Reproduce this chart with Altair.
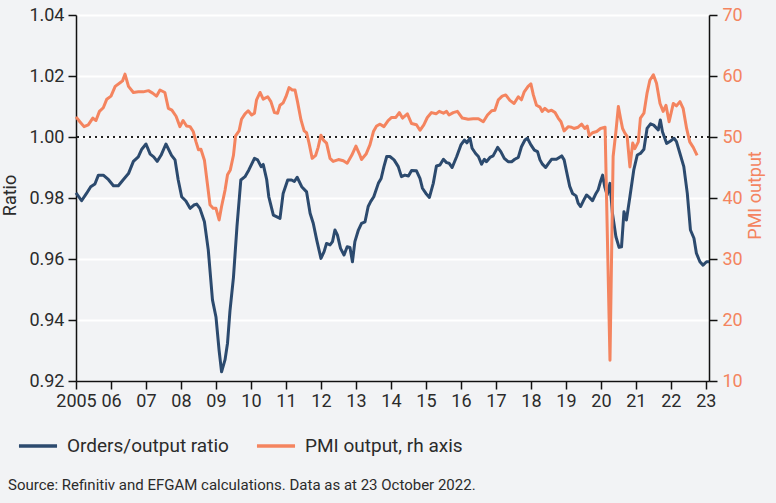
import altair as alt
import pandas as pd

# ---------------- data ----------------
ratio_year = [
    2005.0, 2005.16, 2005.3, 2005.42, 2005.54, 2005.64, 2005.78, 2005.93,
    2006.07, 2006.21, 2006.35, 2006.5, 2006.64, 2006.78, 2006.88,
    2007.0, 2007.12, 2007.22, 2007.32, 2007.43, 2007.57, 2007.73, 2007.83, 2007.92,
    2008.02, 2008.14, 2008.26, 2008.37, 2008.45, 2008.54, 2008.67, 2008.78, 2008.9,
    2009.0, 2009.09, 2009.16, 2009.26, 2009.33, 2009.4, 2009.5, 2009.6, 2009.71, 2009.83, 2009.94,
    2010.1, 2010.19, 2010.29, 2010.35, 2010.45, 2010.51, 2010.64, 2010.83, 2010.92,
    2011.05, 2011.16, 2011.24, 2011.32, 2011.45, 2011.59, 2011.69, 2011.78, 2011.88,
    2012.0, 2012.09, 2012.16, 2012.26, 2012.33, 2012.4, 2012.47, 2012.56, 2012.66, 2012.75, 2012.83, 2012.9, 2012.97,
    2013.07, 2013.16, 2013.26, 2013.35, 2013.42, 2013.51, 2013.64, 2013.72, 2013.8, 2013.88, 2013.97,
    2014.09, 2014.21, 2014.3, 2014.4, 2014.5, 2014.59, 2014.73, 2014.83, 2014.9,
    2015.0, 2015.1, 2015.21, 2015.3, 2015.4, 2015.5, 2015.59, 2015.66, 2015.75, 2015.88,
    2016.0, 2016.1, 2016.17, 2016.26, 2016.32, 2016.42, 2016.5, 2016.59, 2016.67, 2016.73, 2016.83, 2016.92,
    2017.05, 2017.14, 2017.24, 2017.35, 2017.45, 2017.54, 2017.64, 2017.73, 2017.83, 2017.9,
    2018.0, 2018.1, 2018.19, 2018.26, 2018.33, 2018.42, 2018.51, 2018.59, 2018.73, 2018.88, 2018.95,
    2019.05, 2019.11, 2019.19, 2019.29, 2019.35, 2019.42, 2019.51, 2019.59, 2019.67, 2019.76, 2019.86, 2019.92, 2019.99,
    2020.05, 2020.11, 2020.18, 2020.26, 2020.33, 2020.43, 2020.52, 2020.59, 2020.66, 2020.73, 2020.83, 2020.94,
    2021.04, 2021.13, 2021.23, 2021.32, 2021.42, 2021.51, 2021.64, 2021.7, 2021.76, 2021.88, 2021.97,
    2022.09, 2022.16, 2022.26, 2022.37, 2022.47, 2022.56, 2022.66, 2022.73, 2022.83, 2022.92,
    2023.02, 2023.09,
]
ratio_value = [
    0.9817, 0.9791, 0.9815, 0.9837, 0.9846, 0.9875, 0.9875, 0.9860,
    0.9840, 0.9840, 0.9860, 0.9880, 0.9920, 0.9935, 0.9960,
    0.9977, 0.9944, 0.9935, 0.9920, 0.9940, 0.9977, 0.9940, 0.9925, 0.9860,
    0.9804, 0.9790, 0.9766, 0.9777, 0.9780, 0.9766, 0.9722, 0.9630, 0.9466,
    0.9410, 0.9300, 0.9230, 0.9270, 0.9324, 0.9430, 0.9540, 0.9706, 0.9859, 0.9870, 0.9892,
    0.9930, 0.9925, 0.9903, 0.9910, 0.9860, 0.9804, 0.9744, 0.9733, 0.9815,
    0.9859, 0.9859, 0.9854, 0.9868, 0.9837, 0.9820, 0.9750, 0.9717, 0.9662,
    0.9602, 0.9624, 0.9651, 0.9646, 0.9657, 0.9695, 0.9679, 0.9635, 0.9613, 0.9640, 0.9638, 0.9591, 0.9657,
    0.9695, 0.9717, 0.9722, 0.9772, 0.9788, 0.9804, 0.9848, 0.9864, 0.9903, 0.9936, 0.9936,
    0.9925, 0.9903, 0.9870, 0.9875, 0.9872, 0.9890, 0.9889, 0.9864, 0.9832,
    0.9815, 0.9802, 0.9848, 0.9905, 0.9908, 0.9927, 0.9916, 0.9914, 0.9900, 0.9936,
    0.9974, 0.9990, 0.9981, 0.9996, 0.9963, 0.9946, 0.9936, 0.9911, 0.9927, 0.9919, 0.9933, 0.9938,
    0.9966, 0.9952, 0.9930, 0.9919, 0.9919, 0.9927, 0.9933, 0.9968, 0.9990, 0.9996,
    0.9974, 0.9957, 0.9952, 0.9925, 0.9911, 0.9900, 0.9914, 0.9927, 0.9927, 0.9938, 0.9925,
    0.9870, 0.9838, 0.9815, 0.9807, 0.9783, 0.9772, 0.9793, 0.9810, 0.9802, 0.9791, 0.9815, 0.9826, 0.9854,
    0.9875, 0.9837, 0.9810, 0.9848, 0.9750, 0.9673, 0.9638, 0.9640, 0.9755, 0.9728, 0.9804, 0.9892,
    0.9941, 0.9946, 0.9960, 1.0028, 1.0043, 1.0039, 1.0023, 1.0056, 1.0017, 0.9979, 0.9985,
    0.9996, 0.9985, 0.9946, 0.9903, 0.9815, 0.9695, 0.9668, 0.9619, 0.9591, 0.9580,
    0.9591, 0.9591,
]

pmi_year = [
    2005.0, 2005.11, 2005.23, 2005.35, 2005.48, 2005.57, 2005.67, 2005.78, 2005.88,
    2006.0, 2006.12, 2006.26, 2006.33, 2006.4, 2006.5, 2006.64, 2006.78, 2006.92,
    2007.07, 2007.19, 2007.3, 2007.4, 2007.54, 2007.64, 2007.74, 2007.86, 2007.97,
    2008.06, 2008.16, 2008.26, 2008.35, 2008.43, 2008.5, 2008.57, 2008.67, 2008.76, 2008.83, 2008.92,
    2009.0, 2009.09, 2009.16, 2009.26, 2009.33, 2009.41, 2009.5, 2009.56, 2009.66, 2009.73, 2009.83, 2009.92,
    2010.02, 2010.1, 2010.16, 2010.26, 2010.35, 2010.48, 2010.57, 2010.67, 2010.76, 2010.83, 2010.92,
    2011.0, 2011.09, 2011.18, 2011.26, 2011.33, 2011.43, 2011.52, 2011.59, 2011.66, 2011.75, 2011.85, 2011.92,
    2012.0, 2012.07, 2012.16, 2012.26, 2012.35, 2012.5, 2012.64, 2012.75, 2012.88,
    2013.0, 2013.1, 2013.16, 2013.29, 2013.4, 2013.5, 2013.59, 2013.69, 2013.8, 2013.92,
    2014.02, 2014.14, 2014.24, 2014.33, 2014.47, 2014.59, 2014.73, 2014.83, 2014.94,
    2015.04, 2015.16, 2015.29, 2015.38, 2015.5, 2015.59, 2015.66, 2015.78, 2015.9,
    2016.04, 2016.21, 2016.35, 2016.5, 2016.64, 2016.76, 2016.88, 2016.97,
    2017.07, 2017.18, 2017.28, 2017.4, 2017.52, 2017.64, 2017.73, 2017.81, 2017.92,
    2018.0, 2018.07, 2018.16, 2018.26, 2018.32, 2018.4, 2018.5, 2018.59, 2018.69, 2018.78, 2018.86, 2018.95,
    2019.07, 2019.16, 2019.23, 2019.35, 2019.45, 2019.54, 2019.61, 2019.67, 2019.76, 2019.88, 2019.99,
    2020.12, 2020.26, 2020.35, 2020.43, 2020.5, 2020.56, 2020.62, 2020.69, 2020.75, 2020.83, 2020.91, 2020.97,
    2021.07, 2021.13, 2021.23, 2021.32, 2021.4, 2021.5, 2021.59, 2021.69, 2021.78, 2021.86, 2021.95,
    2022.07, 2022.16, 2022.26, 2022.35, 2022.45, 2022.54, 2022.64, 2022.75,
]
pmi_value = [
    53.3, 52.5, 51.7, 52.0, 53.1, 52.7, 54.2, 54.8, 56.2,
    56.7, 58.3, 58.9, 59.2, 60.3, 58.3, 57.3, 57.4, 57.4,
    57.6, 57.2, 56.7, 57.7, 57.3, 54.7, 54.4, 53.4, 51.7,
    52.7, 51.8, 51.7, 50.9, 49.2, 47.9, 48.0, 46.2, 42.1, 38.9, 38.3,
    38.3, 36.4, 38.6, 41.3, 43.8, 44.6, 47.0, 50.2, 51.0, 52.9, 53.8, 54.3,
    53.6, 53.9, 56.1, 57.3, 56.2, 56.6, 55.8, 54.0, 53.9, 55.2, 55.6,
    56.6, 58.1, 57.7, 57.7, 55.8, 52.8, 51.0, 50.7, 49.0, 46.5, 47.0, 48.3,
    50.3, 49.5, 49.0, 46.5, 46.0, 46.3, 46.1, 45.7, 47.0,
    48.5, 47.2, 46.3, 47.2, 48.7, 50.9, 51.8, 52.1, 51.7, 52.7,
    53.2, 53.2, 54.0, 53.1, 53.8, 52.2, 52.0, 51.1, 52.0,
    53.2, 54.0, 53.8, 54.2, 53.9, 54.2, 53.6, 54.0, 54.2,
    53.1, 52.9, 53.0, 53.0, 52.5, 53.6, 54.3, 54.4,
    56.1, 56.7, 56.9, 56.0, 55.5, 56.6, 56.1, 57.4, 58.3,
    58.7, 56.9, 55.2, 54.9, 54.2, 54.7, 54.2, 54.4, 54.0, 53.1, 52.5, 51.0,
    51.7, 51.6, 51.4, 51.6, 52.1, 51.4, 51.8, 50.2, 50.7, 50.9, 51.4,
    51.6, 13.4, 46.8, 50.9, 55.0, 53.1, 51.4, 50.6, 50.1, 45.1, 49.0, 48.1,
    49.2, 53.1, 53.9, 57.2, 59.3, 60.2, 58.8, 55.5, 54.2, 55.2, 52.5,
    55.5, 55.1, 55.8, 54.7, 51.4, 49.2, 48.3, 47.0,
]

year_ticks = list(range(2005, 2024))
ratio_ticks = [0.92, 0.94, 0.96, 0.98, 1.00, 1.02, 1.04]
pmi_ticks = [10, 20, 30, 40, 50, 60, 70]
series_names = ["Orders/output ratio", "PMI output, rh axis"]
reference_line = [1.0]
source_text = ["Source: Refinitiv and EFGAM calculations. Data as at 23 October 2022."]

# ---------------- style ----------------
NAVY = "#2c4a6e"
ORANGE = "#f4845f"
BG = "#f2f3f5"
FONT = "Roboto"
TXT = "#2b2b2b"
TICK_FS = 18

ratio_df = pd.DataFrame({"year": ratio_year, "value": ratio_value, "series": series_names[0]})
pmi_df = pd.DataFrame({"year": pmi_year, "value": pmi_value, "series": series_names[1]})
rule_df = pd.DataFrame({"value": reference_line})
src_df = pd.DataFrame({"t": source_text})

color_scale = alt.Scale(domain=series_names, range=[NAVY, ORANGE])

x_enc = alt.X(
    "year:Q",
    scale=alt.Scale(domain=[2005, 2023.09], nice=False, zero=False),
    axis=alt.Axis(
        values=year_ticks,
        labelExpr="datum.value == 2005 ? '2005' : substring(toString(datum.value), 2, 4)",
        title=None, grid=False, domainColor="#111", domainWidth=1.5,
        tickColor="#111", tickWidth=1.5, tickSize=8, labelPadding=3,
        labelFontSize=TICK_FS, labelColor=TXT, labelFont=FONT, labelFlush=False,
    ),
)

ratio_scale = alt.Scale(domain=[0.92, 1.04], nice=False, zero=False)
ratio_axis = alt.Axis(
    values=ratio_ticks, format=".2f", title="Ratio",
    grid=True, gridColor="white", gridWidth=1.8,
    domainColor="#111", domainWidth=1.5, tickColor="#111", tickWidth=1.5, tickSize=8,
    labelPadding=4, labelFontSize=TICK_FS, labelColor=TXT, labelFont=FONT,
    titleFontSize=18, titleColor=TXT, titleFont=FONT, titleFontWeight="normal",
    titleX=-66, titleY=180, titleAngle=270, titleAlign="center", titleBaseline="middle",
)

rule = alt.Chart(rule_df).mark_rule(strokeDash=[2, 4], strokeWidth=2, color="#222").encode(
    y=alt.Y("value:Q", scale=ratio_scale, axis=ratio_axis),
)

ratio_line = alt.Chart(ratio_df).mark_line(strokeWidth=3, strokeJoin="round").encode(
    x=x_enc,
    y=alt.Y("value:Q", scale=ratio_scale, axis=ratio_axis),
    color=alt.Color("series:N", scale=color_scale, title=None),
)

left_layer = alt.layer(rule, ratio_line)

pmi_line = alt.Chart(pmi_df).mark_line(strokeWidth=3, strokeJoin="round").encode(
    x=x_enc,
    y=alt.Y(
        "value:Q", scale=alt.Scale(domain=[10, 70], nice=False, zero=False),
        axis=alt.Axis(
            orient="right", values=pmi_ticks, title="PMI output", grid=False,
            domainColor="#111", domainWidth=1.5, tickColor="#111", tickWidth=1.5, tickSize=8,
            labelPadding=5, labelFontSize=TICK_FS, labelColor=ORANGE, labelFont=FONT,
            titleFontSize=18, titleColor=ORANGE, titleFont=FONT, titleFontWeight="normal",
            titleX=46, titleY=180, titleAngle=270, titleAlign="center", titleBaseline="middle",
        ),
    ),
    color=alt.Color("series:N", scale=color_scale, title=None),
)

source = alt.Chart(src_df).mark_text(
    align="left", baseline="middle", fontSize=15, font=FONT, color=TXT,
).encode(text="t:N", x=alt.value(-68), y=alt.value(470))

chart = alt.layer(left_layer, pmi_line, source).resolve_scale(
    y="independent"
).properties(
    width=633, height=366,
    autosize=alt.AutoSizeParams(type="none"),
    padding={"left": 76, "top": 15, "right": 67, "bottom": 122},
    background=BG,
).configure_view(strokeWidth=0).configure_legend(
    orient="none", legendX=-59, legendY=410, direction="horizontal",
    symbolType="stroke", symbolStrokeWidth=3.5, symbolSize=1450,
    labelFontSize=19, labelFont=FONT, labelColor=TXT, labelOffset=8,
    columnPadding=20, labelLimit=400,
)

chart.save("out.html", embed_options={"renderer": "svg", "actions": False})
